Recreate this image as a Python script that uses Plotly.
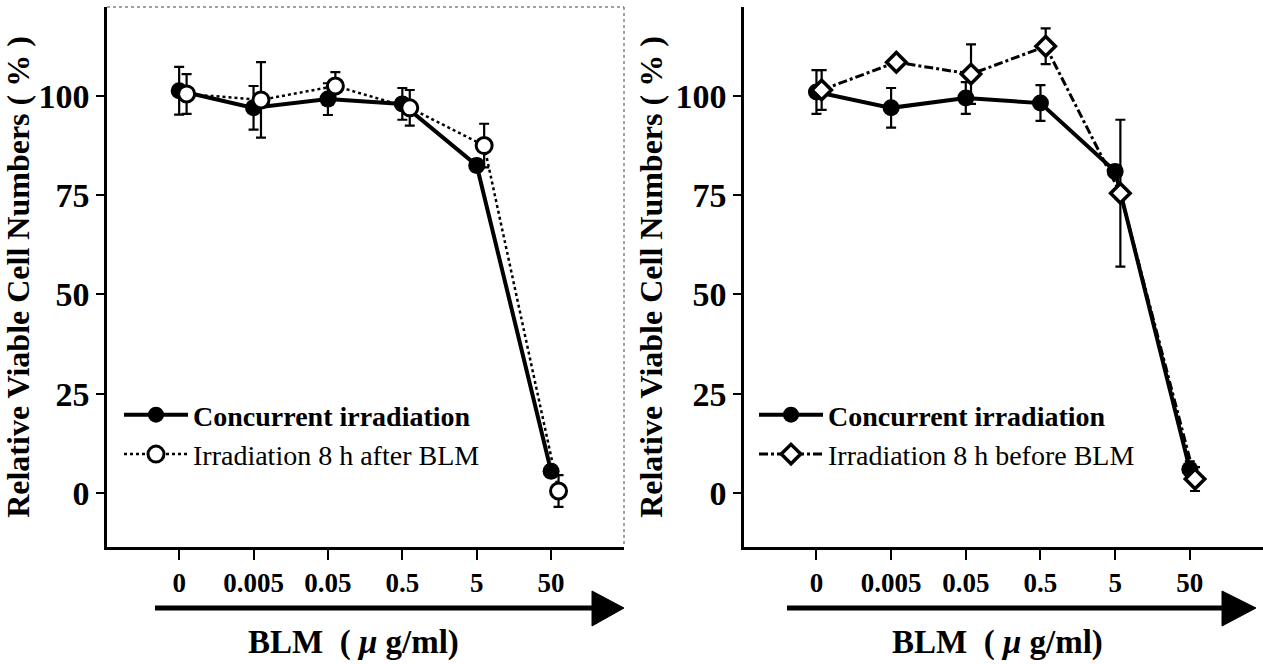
import plotly.graph_objects as go

# ---------------- data ----------------
doses = ["0", "0.005", "0.05", "0.5", "5", "50"]

conc_left = [101.3, 97.0, 99.2, 98.0, 82.5, 5.5]
conc_left_err = [6.0, 5.5, 4.0, 4.0, 1.5, 1.5]
after_blm = [100.5, 99.0, 102.5, 97.0, 87.5, 0.5]
after_blm_err = [5.0, 9.5, 3.5, 4.5, 5.5, 4.0]

conc_right = [101.0, 97.0, 99.5, 98.2, 81.0, 6.0]
conc_right_err = [5.5, 5.0, 4.0, 4.5, 1.5, 2.0]
before_blm = [101.5, 108.5, 105.5, 112.5, 75.5, 3.5]
before_blm_err = [5.0, 0.8, 7.5, 4.5, 18.5, 3.0]

y_ticks = [0, 25, 50, 75, 100]

# ---------------- layout helpers ----------------
W, H = 1263, 664
def px(x):
    return x / W
def py(y):
    return 1 - y / H

SERIF = "Liberation Serif, Times New Roman, serif"
idx = list(range(len(doses)))
OFF_L = 0.10   # open circles drawn a bit to the right
OFF_R = 0.07   # diamonds drawn a bit to the right

def err(arr):
    return dict(type="data", array=arr, visible=True, color="black", thickness=2.2, width=5)

fig = go.Figure()

fig.add_trace(go.Scatter(
    x=idx, y=conc_left, error_y=err(conc_left_err), mode="lines+markers",
    name="<b>Concurrent irradiation</b>", legend="legend",
    line=dict(color="black", width=4),
    marker=dict(symbol="circle", size=17, color="black"),
    xaxis="x", yaxis="y"))
fig.add_trace(go.Scatter(
    x=[i + OFF_L for i in idx], y=after_blm, error_y=err(after_blm_err), mode="lines+markers",
    name="Irradiation 8 h after BLM", legend="legend",
    line=dict(color="black", width=2.5, dash="dot"),
    marker=dict(symbol="circle", size=16, color="white", line=dict(color="black", width=3)),
    xaxis="x", yaxis="y"))

fig.add_trace(go.Scatter(
    x=idx, y=conc_right, error_y=err(conc_right_err), mode="lines+markers",
    name="<b>Concurrent irradiation</b>", legend="legend2",
    line=dict(color="black", width=4),
    marker=dict(symbol="circle", size=17, color="black"),
    xaxis="x2", yaxis="y2"))
fig.add_trace(go.Scatter(
    x=[i + OFF_R for i in idx], y=before_blm, error_y=err(before_blm_err), mode="lines+markers",
    name="Irradiation 8 h before BLM", legend="legend2",
    line=dict(color="black", width=3, dash="dashdot"),
    marker=dict(symbol="diamond", size=15, color="white", line=dict(color="black", width=3.5)),
    xaxis="x2", yaxis="y2"))

XR = [-0.97, 5.98]
YR = [-13.6, 122.4]

xcommon = dict(range=XR, tickmode="array", tickvals=idx, ticktext=doses,
               showgrid=False, zeroline=False, showline=True, linecolor="black", linewidth=2.5,
               ticks="outside", ticklen=10, tickwidth=1.5, tickcolor="black",
               tickfont=dict(family=SERIF, size=27, color="black", weight="bold"), ticklabelstandoff=0)
ycommon = dict(range=YR, tickmode="array", tickvals=y_ticks, ticktext=[str(v) for v in y_ticks],
               showgrid=False, zeroline=False, showline=True, linecolor="black", linewidth=2.5,
               ticks="outside", ticklen=8, tickwidth=1.5, tickcolor="black",
               tickfont=dict(family=SERIF, size=34, color="black", weight="bold"), ticklabelstandoff=0)

ytitle = dict(text="<b>Relative Viable Cell Numbers ( % )</b>",
              font=dict(family=SERIF, size=32, color="black"), standoff=4)

legfont = dict(family=SERIF, size=28, color="black")

fig.update_layout(
    width=W, height=H, margin=dict(l=0, r=0, t=0, b=0),
    paper_bgcolor="white", plot_bgcolor="white",
    xaxis=dict(domain=[px(107), px(624)], anchor="y", **xcommon),
    yaxis=dict(domain=[py(547), py(7)], anchor="x", title=ytitle, **ycommon),
    xaxis2=dict(domain=[px(744), 1.0], anchor="y2", **xcommon),
    yaxis2=dict(domain=[py(547), py(7)], anchor="x2", title=ytitle, **ycommon),
    legend=dict(x=px(119), y=py(390), xanchor="left", yanchor="top", font=legfont,
                bgcolor="rgba(0,0,0,0)", itemwidth=64, tracegroupgap=0),
    legend2=dict(x=px(754), y=py(390), xanchor="left", yanchor="top", font=legfont,
                 bgcolor="rgba(0,0,0,0)", itemwidth=64, tracegroupgap=0),
    showlegend=True,
)

# dashed frame (top and right) of the left panel
fig.add_shape(type="line", xref="paper", yref="paper", x0=px(107), x1=px(624), y0=py(7), y1=py(7),
              line=dict(color="#444", width=1, dash="dot"))
fig.add_shape(type="line", xref="paper", yref="paper", x0=px(624), x1=px(624), y0=py(7), y1=py(547),
              line=dict(color="#444", width=1, dash="dot"))

# dose arrows and axis captions
for (x0, xh, xt, xc) in [(155, 592, 624, 353), (787, 1222, 1256, 997)]:
    fig.add_shape(type="line", xref="paper", yref="paper", x0=px(x0), x1=px(xh + 2), y0=py(608), y1=py(608),
                  line=dict(color="black", width=5))
    fig.add_shape(type="path", xref="paper", yref="paper",
                  path=f"M {px(xh)},{py(591)} L {px(xt)},{py(608)} L {px(xh)},{py(626)} Z",
                  fillcolor="black", line=dict(color="black", width=1))
    fig.add_annotation(xref="paper", yref="paper", x=px(xc), y=py(642), xanchor="center", yanchor="middle",
                       showarrow=False, text="<b>BLM  ( <i>μ</i> g/ml)</b>",
                       font=dict(family=SERIF, size=33, color="black"))

fig.write_html("out.html")
